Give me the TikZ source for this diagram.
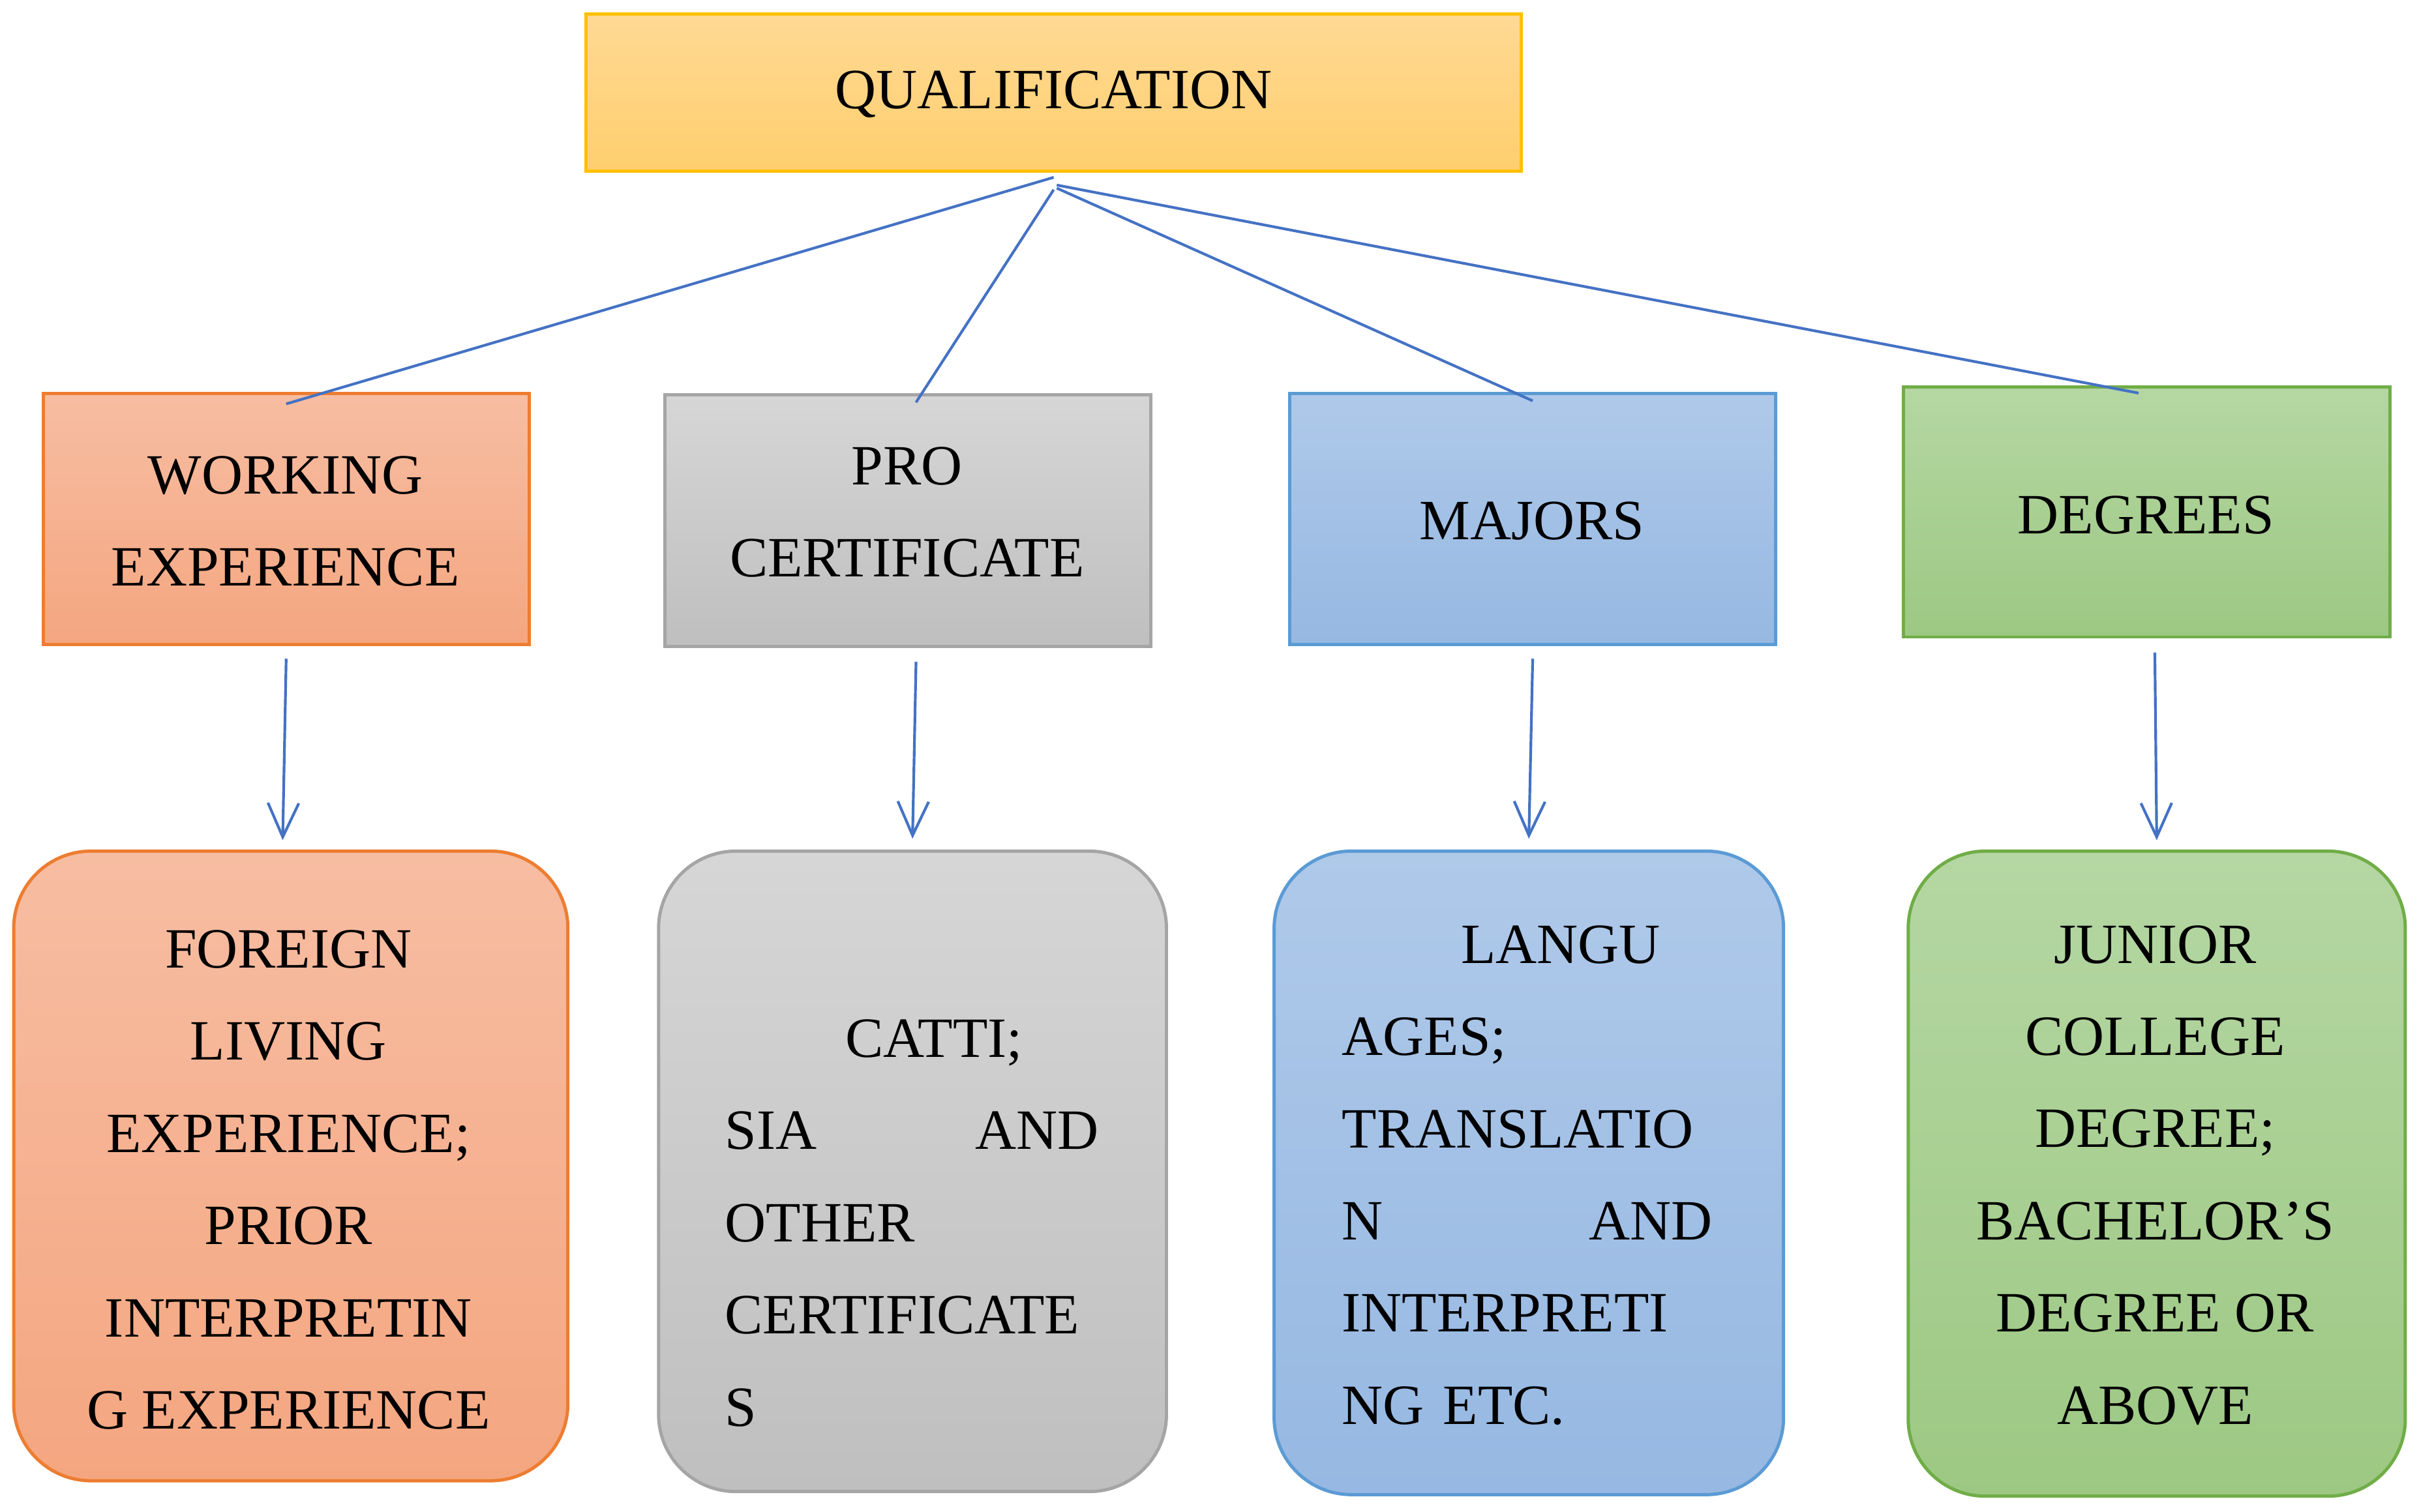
\documentclass[tikz,border=0pt]{standalone}
\usepackage{fontspec}
\setmainfont{Liberation Serif}
\usetikzlibrary{arrows.meta}
\begin{document}
\begin{tikzpicture}[x=0.01cm,y=-0.01cm,
  box/.style={draw,line width=0.6pt,inner sep=0pt},
  rbox/.style={box,rounded corners=0.5cm},
  txt/.style={font=\fontsize{10.5}{17}\selectfont,inner sep=0pt},
  conn/.style={draw=bl,line width=0.5pt},
  arr/.style={conn,-{Straight Barb[length=0.22cm,width=0.2cm,line width=0.5pt]}}]
\definecolor{bl}{HTML}{4472C4}
\definecolor{qb}{HTML}{FFC000}
\useasboundingbox (0,0) rectangle (1568,980);
% top
\node[box,draw=qb,top color={rgb,255:red,255;green,217;blue,148},bottom color={rgb,255:red,255;green,207;blue,110},minimum width=6.06cm,minimum height=1.02cm] (q) at (683,60) {};
\node[txt] (qt) at (683,61) {QUALIFICATION};
% second row
\node[box,draw={rgb,255:red,237;green,125;blue,49},top color={rgb,255:red,247;green,189;blue,162},bottom color={rgb,255:red,244;green,166;blue,128},minimum width=3.15cm,minimum height=1.63cm] (w) at (185.5,336.5) {};
\node[txt,align=center] (wt) at (185,338) {WORKING\\EXPERIENCE};
\node[box,draw={rgb,255:red,165;green,165;blue,165},top color={rgb,255:red,214;green,214;blue,214},bottom color={rgb,255:red,191;green,191;blue,191},minimum width=3.15cm,minimum height=1.63cm] (p) at (588.5,337.5) {};
\node[txt,align=center] (pt) at (588,332) {PRO\\CERTIFICATE};
\node[box,draw={rgb,255:red,91;green,155;blue,213},top color={rgb,255:red,175;green,201;blue,233},bottom color={rgb,255:red,150;green,184;blue,226},minimum width=3.15cm,minimum height=1.63cm] (m) at (993.5,336.5) {};
\node[txt] (mt) at (993,338) {MAJORS};
\node[box,draw={rgb,255:red,112;green,173;blue,71},top color={rgb,255:red,181;green,215;blue,163},bottom color={rgb,255:red,157;green,200;blue,131},minimum width=3.15cm,minimum height=1.62cm] (d) at (1391.5,332) {};
\node[txt] (dt) at (1391,334) {DEGREES};
% bottom row
\node[rbox,draw={rgb,255:red,237;green,125;blue,49},top color={rgb,255:red,247;green,189;blue,162},bottom color={rgb,255:red,244;green,166;blue,128},minimum width=3.59cm,minimum height=4.08cm] (f) at (188.5,756) {};
\node[txt,align=center] (ft) at (187,765) {FOREIGN\\LIVING\\EXPERIENCE;\\PRIOR\\INTERPRETIN\\G EXPERIENCE};
\node[rbox,draw={rgb,255:red,165;green,165;blue,165},top color={rgb,255:red,214;green,214;blue,214},bottom color={rgb,255:red,191;green,191;blue,191},minimum width=3.29cm,minimum height=4.15cm] (c) at (591.5,759.5) {};
\node[txt,text width=2.42cm,align=left] (ct) at (591,793) {\hspace*{0.78cm}CATTI;\\\makebox[2.42cm][s]{SIA\hfill AND}\\OTHER\\CERTIFICATE\\S};
\node[rbox,draw={rgb,255:red,91;green,155;blue,213},top color={rgb,255:red,175;green,201;blue,233},bottom color={rgb,255:red,150;green,184;blue,226},minimum width=3.30cm,minimum height=4.17cm] (l) at (991,760.5) {};
\node[txt,text width=2.40cm,align=left] (lt) at (990,762) {\hspace*{0.77cm}LANGU\\AGES;\\TRANSLATIO\\\makebox[2.40cm][s]{N\hfill AND}\\INTERPRETI\\NG ETC.};
\node[rbox,draw={rgb,255:red,112;green,173;blue,71},top color={rgb,255:red,181;green,215;blue,163},bottom color={rgb,255:red,157;green,200;blue,131},minimum width=3.22cm,minimum height=4.18cm] (g) at (1398,761) {};
\node[txt,align=center] (gt) at (1397,762) {JUNIOR\\COLLEGE\\DEGREE;\\BACHELOR’S\\DEGREE OR\\ABOVE};
% connectors
\coordinate (q1) at (683,115);
\coordinate (q2) at (683,123);
\coordinate (q3) at (685,122);
\coordinate (q4) at (685,120);
\draw[conn] (q1) -- ([yshift=-0.08cm]w.north);
\draw[conn] (q2) -- ([xshift=1.5pt,yshift=-0.06cm]p.north);
\draw[conn] (q3) -- ([yshift=-0.06cm]m.north);
\draw[conn] (q4) -- ([xshift=-1.5pt,yshift=-0.05cm]d.north);
\draw[arr] ([yshift=-0.08cm]w.south) -- ([xshift=-1.5pt,yshift=0.06cm]f.north);
\draw[arr] ([xshift=1.5pt,yshift=-0.09cm]p.south) -- ([yshift=0.07cm]c.north);
\draw[arr] ([yshift=-0.08cm]m.south) -- ([yshift=0.07cm]l.north);
\draw[arr] ([xshift=1.5pt,yshift=-0.09cm]d.south) -- ([yshift=0.06cm]g.north);
\end{tikzpicture}
\end{document}
